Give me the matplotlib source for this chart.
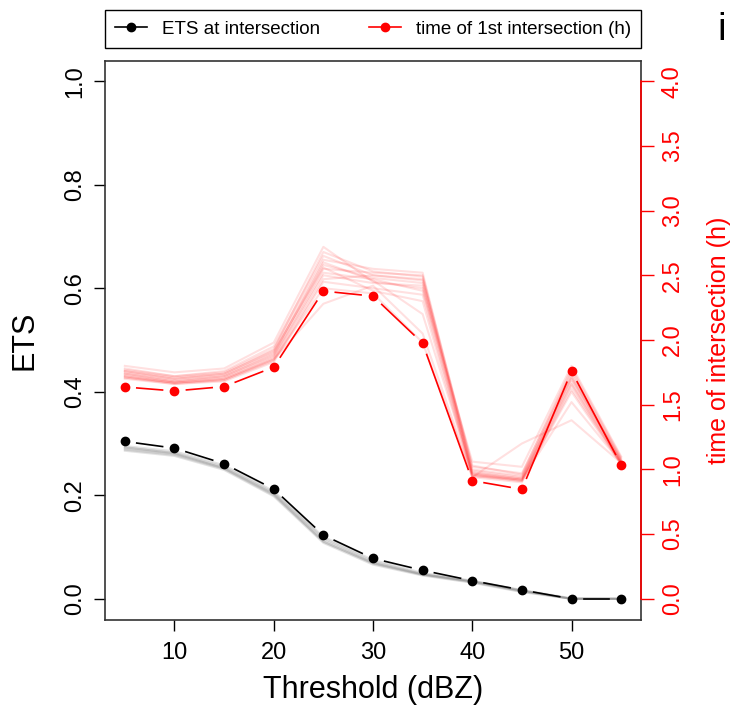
import matplotlib
matplotlib.use("Agg")
import matplotlib.pyplot as plt
from matplotlib.lines import Line2D
import numpy as np

plt.rcParams['font.family'] = ['Liberation Sans', 'DejaVu Sans']

thresholds = [5, 10, 15, 20, 25, 30, 35, 40, 45, 50, 55]

# ETS at intersection (left axis)
ets_main = [0.304, 0.291, 0.261, 0.212, 0.123, 0.078, 0.055, 0.035, 0.017, 0.0, 0.0]
ets_members = [
    [0.295, 0.285, 0.258, 0.208, 0.120, 0.075, 0.050, 0.035, 0.017, 0.001, 0.0],
    [0.292, 0.282, 0.255, 0.205, 0.117, 0.072, 0.048, 0.034, 0.016, 0.0, 0.0],
    [0.290, 0.280, 0.253, 0.203, 0.114, 0.070, 0.047, 0.033, 0.015, 0.0, 0.0],
    [0.288, 0.278, 0.251, 0.200, 0.111, 0.068, 0.046, 0.032, 0.014, 0.0, 0.0],
    [0.286, 0.276, 0.249, 0.198, 0.108, 0.066, 0.045, 0.031, 0.013, 0.0, 0.0],
    [0.293, 0.281, 0.252, 0.202, 0.110, 0.069, 0.047, 0.034, 0.016, 0.0, 0.0],
]

# time of 1st intersection in hours (right axis)
time_main = [1.637, 1.606, 1.640, 1.790, 2.378, 2.339, 1.975, 0.913, 0.846, 1.759, 1.034]
time_members = [
    [1.80, 1.75, 1.78, 1.98, 2.72, 2.45, 2.40, 1.06, 1.02, 1.80, 1.10],
    [1.78, 1.72, 1.76, 1.95, 2.65, 2.50, 2.46, 1.02, 0.97, 1.76, 1.08],
    [1.76, 1.71, 1.74, 1.92, 2.62, 2.55, 2.52, 1.00, 0.95, 1.74, 1.07],
    [1.75, 1.70, 1.73, 1.90, 2.58, 2.48, 2.44, 0.99, 0.94, 1.72, 1.06],
    [1.74, 1.69, 1.72, 1.88, 2.55, 2.52, 2.50, 0.98, 0.93, 1.70, 1.06],
    [1.73, 1.68, 1.71, 1.87, 2.52, 2.47, 2.38, 0.97, 0.92, 1.68, 1.05],
    [1.72, 1.67, 1.70, 1.86, 2.50, 2.44, 2.42, 0.96, 0.92, 1.66, 1.05],
    [1.71, 1.66, 1.69, 1.84, 2.47, 2.50, 2.47, 0.96, 0.91, 1.62, 1.05],
    [1.70, 1.66, 1.68, 1.83, 2.45, 2.40, 2.35, 0.95, 0.91, 1.60, 1.04],
    [1.74, 1.68, 1.72, 1.89, 2.60, 2.46, 2.20, 0.97, 0.93, 1.71, 1.07],
    [1.72, 1.67, 1.70, 1.85, 2.28, 2.42, 2.05, 0.95, 0.92, 1.52, 1.05],
    [1.76, 1.70, 1.74, 1.91, 2.56, 2.38, 2.30, 0.94, 1.20, 1.38, 1.05],
    [1.77, 1.72, 1.75, 1.93, 2.68, 2.53, 2.49, 1.03, 0.96, 1.78, 1.09],
    [1.71, 1.67, 1.69, 1.85, 2.40, 2.36, 1.98, 0.94, 0.90, 1.65, 1.04],
]


def b_segments(ax, x, y, gap):
    # R type="b": line segments stop short of the points
    pts = ax.transData.transform(np.column_stack([x, y]))
    inv = ax.transData.inverted()
    segs = []
    for p0, p1 in zip(pts[:-1], pts[1:]):
        d = p1 - p0
        L = np.hypot(*d)
        if L <= 2 * gap:
            continue
        u = d / L
        segs.append(inv.transform(np.array([p0 + u * gap, p1 - u * gap])))
    return segs


W, H = 730, 708
fig = plt.figure(figsize=(W / 100, H / 100), dpi=100)
ax = fig.add_axes([105 / W, (H - 619.5) / H, (641 - 105) / W, (619.5 - 60.5) / H])
ax2 = ax.twinx()

ax.set_xlim(3, 57)
ax.set_ylim(-0.04, 1.04)
ax2.set_ylim(-0.16, 4.16)

for m in ets_members:
    ax.plot(thresholds, m, color=(0.45, 0.45, 0.45, 0.2), lw=1.5, zorder=1)
for seg in b_segments(ax, thresholds, ets_main, 12):
    ax.plot(seg[:, 0], seg[:, 1], color="black", lw=1.2, zorder=2)
ax.plot(thresholds, ets_main, "o", color="black", ms=6, zorder=3)

for m in time_members:
    ax2.plot(thresholds, m, color=(1, 0, 0, 0.12), lw=1.5, zorder=1)
for seg in b_segments(ax2, thresholds, time_main, 12):
    ax2.plot(seg[:, 0], seg[:, 1], color="red", lw=1.2, zorder=2)
ax2.plot(thresholds, time_main, "o", color="red", ms=6, zorder=3)

ax.set_xticks([10, 20, 30, 40, 50])
ax.set_yticks([0.0, 0.2, 0.4, 0.6, 0.8, 1.0])
ax.set_yticklabels(["0.0", "0.2", "0.4", "0.6", "0.8", "1.0"], rotation=90, va="center")
ax.tick_params(axis="both", length=8, width=1, labelsize=17, direction="out")
ax.tick_params(axis="x", pad=8)
ax.tick_params(axis="y", pad=5.5)
for s in ax.spines.values():
    s.set_linewidth(1.2)
    s.set_color("#333333")

ax2.set_yticks([0.0, 0.5, 1.0, 1.5, 2.0, 2.5, 3.0, 3.5, 4.0])
ax2.set_yticklabels(["0.0", "0.5", "1.0", "1.5", "2.0", "2.5", "3.0", "3.5", "4.0"],
                    rotation=90, va="center")
ax2.tick_params(axis="y", length=9, width=1, labelsize=17, colors="red", pad=6)
for k in ["top", "bottom", "left"]:
    ax2.spines[k].set_visible(False)
ax2.spines["right"].set_color("red")
ax2.spines["right"].set_linewidth(1.2)
ax2.spines["right"].set_bounds(0, 4)

ax.set_xlabel("Threshold (dBZ)", fontsize=22, labelpad=8)
ax.set_ylabel("ETS", fontsize=22, labelpad=18)
ax2.set_ylabel("time of intersection (h)", fontsize=18, color="red", labelpad=17)

handles = [
    Line2D([], [], color="black", marker="o", ms=6, lw=1.2),
    Line2D([], [], color="red", marker="o", ms=6, lw=1.2),
]
leg = ax.legend(handles, ["ETS at intersection", "time of 1st intersection (h)"],
                loc="lower left", bbox_to_anchor=(0, 1 + 12.5 / 559, 1, 44 / 559),
                mode="expand", ncol=2, borderaxespad=0, fontsize=13.5,
                fancybox=False, framealpha=1, edgecolor="black",
                handlelength=1.7, handletextpad=0.8, borderpad=0.55)
leg.get_frame().set_linewidth(1.0)

fig.text(722 / W, (H - 30) / H, "i", fontsize=28, ha="center", va="center")

fig.savefig("out.png", dpi=100)
